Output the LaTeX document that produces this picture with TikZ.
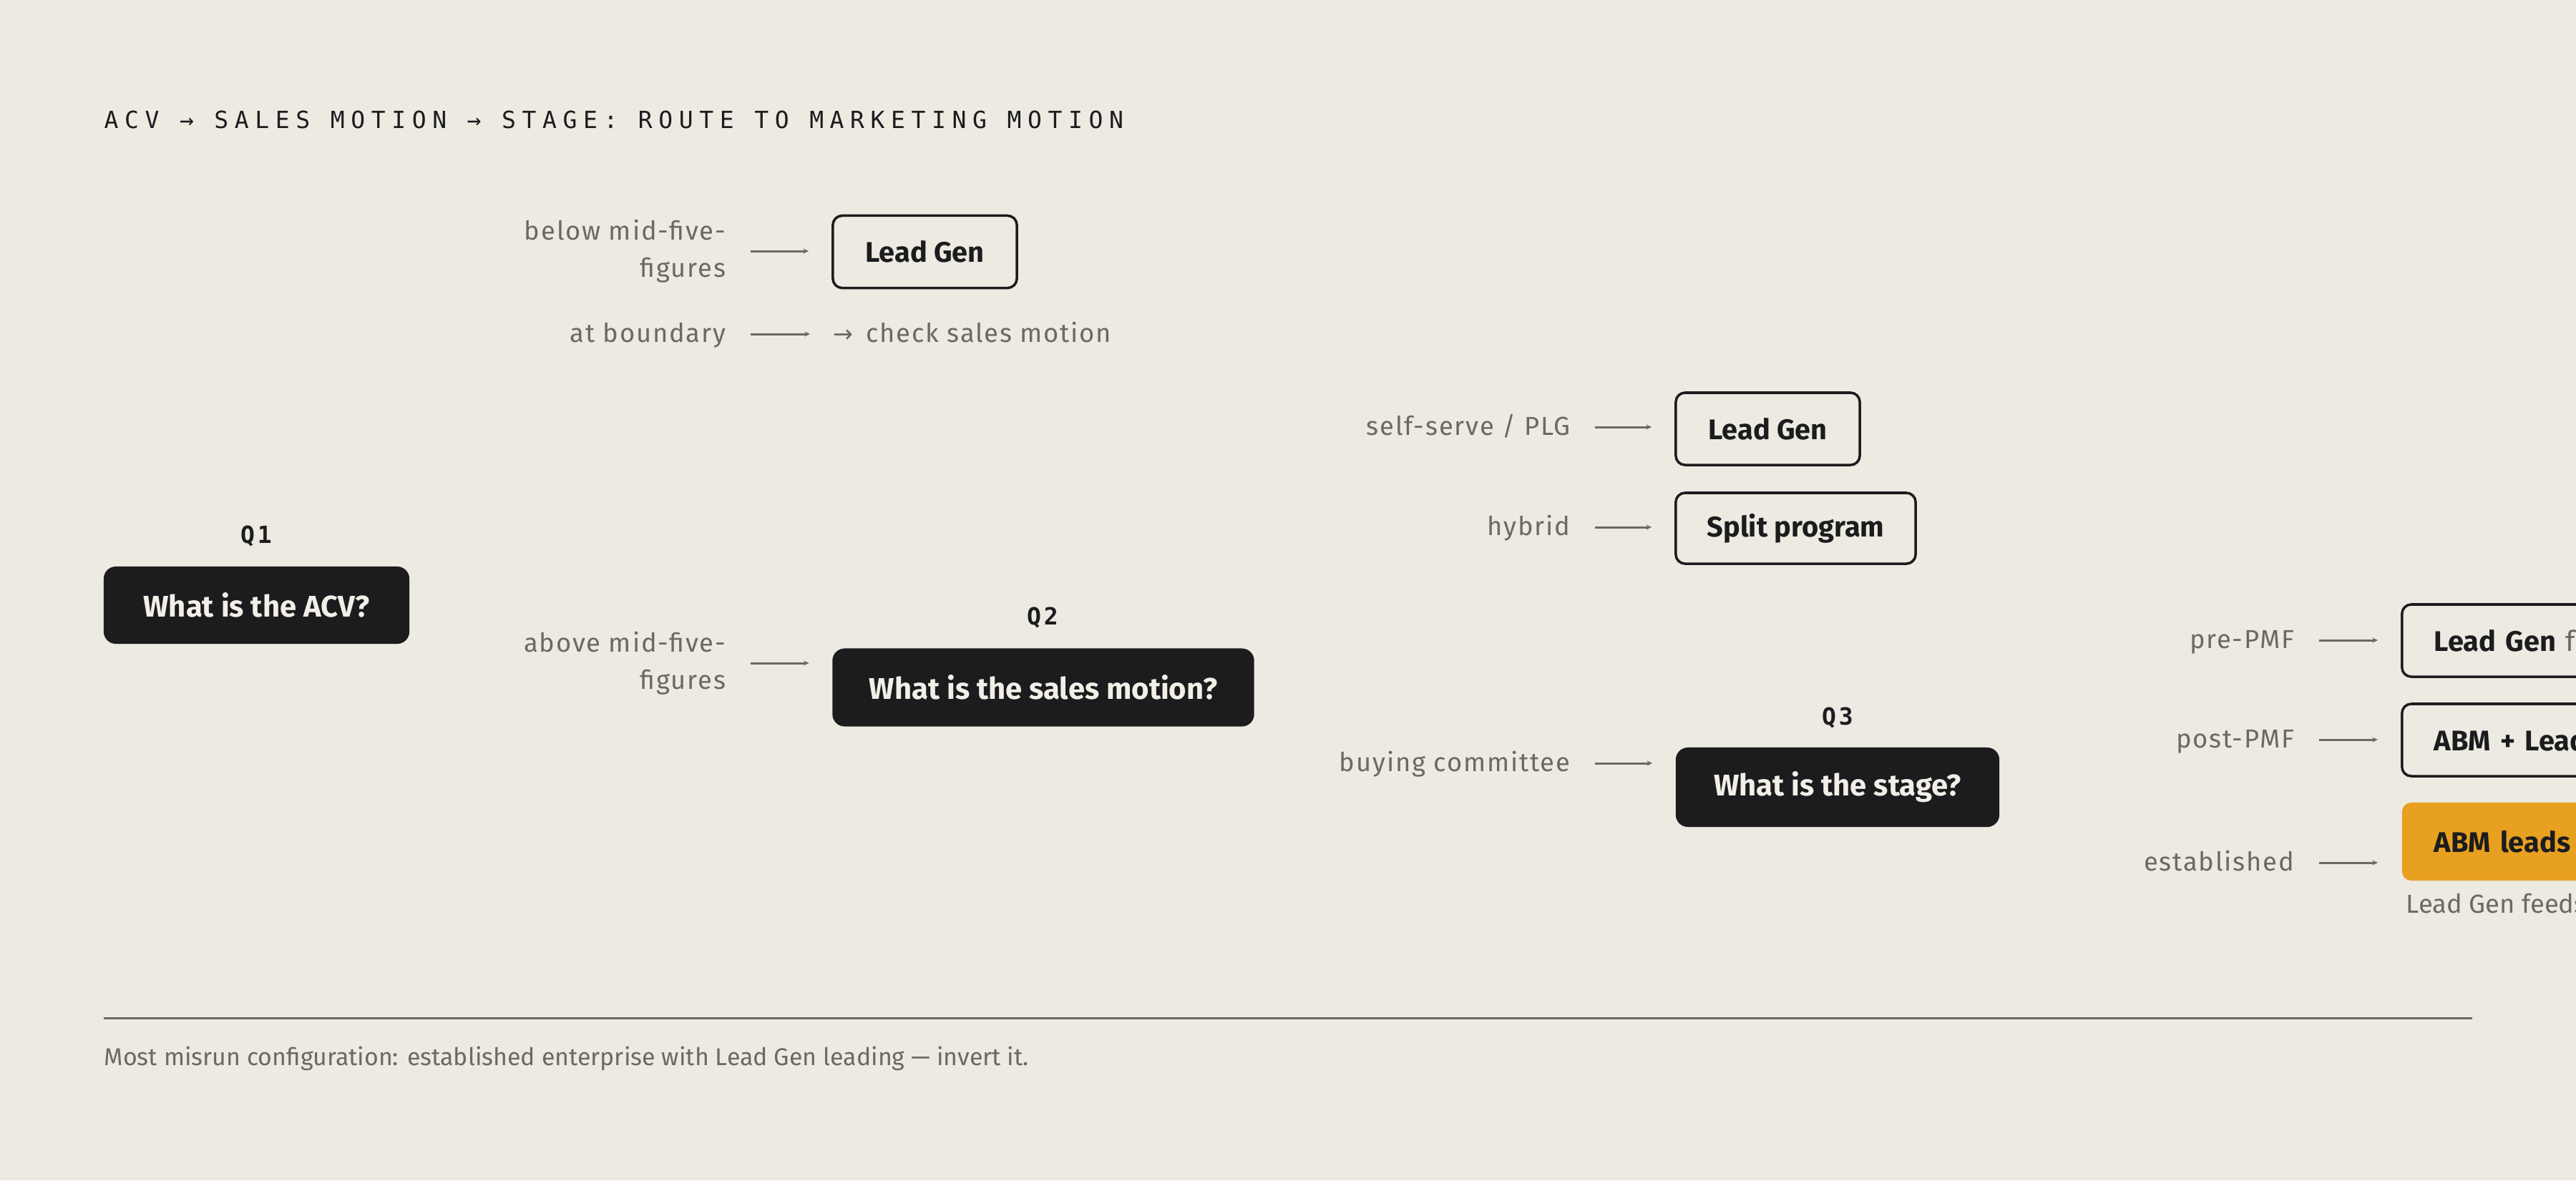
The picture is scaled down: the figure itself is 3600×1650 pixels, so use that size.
\documentclass[tikz,border=0pt]{standalone}
\usepackage{fontspec}
\setmainfont{Fira Sans}
\newfontfamily\titlefont[LetterSpace=26]{DejaVu Sans Mono}
\newfontfamily\qfont[LetterSpace=12]{DejaVu Sans Mono}
\newfontfamily\arrowfont{DejaVu Sans}
\newfontfamily\labelfont[LetterSpace=5]{Fira Sans}
\usetikzlibrary{arrows.meta,calc}
\definecolor{bgc}{RGB}{237,234,226}
\definecolor{ink}{RGB}{28,28,30}
\definecolor{muted}{RGB}{108,105,100}
\definecolor{paper}{RGB}{242,239,232}
\definecolor{amber}{RGB}{232,160,32}
\tikzset{
  titletext/.style={inner sep=0, text=ink, font=\titlefont\fontsize{9.4}{11}\selectfont},
  qlabel/.style={inner sep=0, text=ink, font=\qfont\bfseries\fontsize{9.4}{11}\selectfont},
  darkq/.style={fill=ink, text=paper, rounded corners=0.17cm, inner sep=0,
    font=\bfseries\fontsize{11.9}{13}\selectfont},
  outbox/.style={draw=ink, line width=1pt, fill=bgc, rounded corners=0.13cm, inner sep=0,
    text=ink, font=\bfseries\fontsize{11.3}{13}\selectfont},
  edgebox/.style={outbox, anchor=west, inner xsep=0.45cm, text width=5.1cm, align=left, minimum height=1.01cm},
  cond/.style={inner sep=0, text=muted, font=\labelfont\fontsize{10.35}{14.8}\selectfont},
  subnote/.style={inner sep=0, text=muted, font=\fontsize{10.35}{12}\selectfont},
  arr/.style={draw=muted, line width=0.85pt, -{Stealth[length=2.2pt,width=2pt]}},
  rulestyle/.style={draw=muted, line width=0.85pt},
  foot/.style={inner sep=0, text=muted, font=\fontsize{9.65}{11}\selectfont},
}
\begin{document}
\begin{tikzpicture}[x=0.01cm,y=-0.01cm]
\fill[bgc] (0,0) rectangle (3600,1650);
\useasboundingbox (0,0) rectangle (3600,1650);
\clip (0,0) rectangle (3600,1650);

% title
\node[titletext, anchor=base west] (title) at (145,179) {ACV → SALES MOTION → STAGE: ROUTE TO MARKETING MOTION};

% Q1
\node[qlabel, anchor=base] (q1l) at (358,759) {Q1};
\node[darkq, minimum width=4.27cm, minimum height=1.08cm] (q1) at (358.5,846) {What is the ACV?};

% column 1
\node[cond, anchor=east, align=right] (c1a) at (1015,351) {below mid-five-\\figures};
\node[outbox, minimum width=2.57cm, minimum height=1.01cm] (lg1) at (1292.5,352) {Lead Gen};
\draw[arr] ($(c1a.east)+(34,0)$) -- ($(c1a.east -| lg1.west)+(-32,0)$);

\node[cond, anchor=base east] (c1b) at (1015,478) {at boundary};
\node[cond, anchor=base west] (chk) at (1164,478) {{\arrowfont\fontsize{9.5}{10}\selectfont →}\, check sales motion};
\draw[arr] ($(c1b.base east)+(34,-11)$) -- ($(c1b.base east -| chk.west)+(-32,-11)$);

\node[cond, anchor=east, align=right] (c1c) at (1015,927) {above mid-five-\\figures};
\node[qlabel, anchor=base] (q2l) at (1457,873) {Q2};
\node[darkq, minimum width=5.89cm, minimum height=1.09cm] (q2) at (1458,961) {What is the sales motion?};
\draw[arr] ($(c1c.east)+(34,0)$) -- ($(c1c.east -| q2.west)+(-32,0)$);

% column 2
\node[cond, anchor=base east] (c2a) at (2195,608) {self-serve / PLG};
\node[outbox, minimum width=2.57cm, minimum height=1.01cm] (lg2) at (2470.5,599.5) {Lead Gen};
\draw[arr] ($(c2a.base east)+(34,-11)$) -- ($(c2a.base east -| lg2.west)+(-32,-11)$);

\node[cond, anchor=base east] (c2b) at (2195,748) {hybrid};
\node[outbox, minimum width=3.35cm, minimum height=0.99cm] (split) at (2509.5,738.5) {Split program};
\draw[arr] ($(c2b.base east)+(34,-11)$) -- ($(c2b.base east -| split.west)+(-32,-11)$);

\node[cond, anchor=base east] (c2c) at (2195,1078) {buying committee};
\node[qlabel, anchor=base] (q3l) at (2568,1013) {Q3};
\node[darkq, minimum width=4.52cm, minimum height=1.11cm] (q3) at (2568,1100.5) {What is the stage?};
\draw[arr] ($(c2c.base east)+(34,-11)$) -- ($(c2c.base east -| q3.west)+(-32,-11)$);

% column 3
\node[cond, anchor=base east] (c3a) at (3207,906) {pre-PMF};
\node[edgebox] (r1) at (3355,895.5) {Lead Gen {\mdseries\color{muted}fo}};
\draw[arr] ($(c3a.base east)+(34,-11)$) -- ($(c3a.base east -| r1.west)+(-32,-11)$);

\node[cond, anchor=base east] (c3b) at (3207,1045) {post-PMF};
\node[edgebox] (r2) at (3355,1034.5) {ABM + Lead};
\draw[arr] ($(c3b.base east)+(34,-11)$) -- ($(c3b.base east -| r2.west)+(-32,-11)$);

\node[cond, anchor=base east] (c3c) at (3207,1217) {established};
\node[edgebox, draw=none, fill=amber, minimum height=1.09cm] (r3) at (3355,1176.5) {ABM leads};
\draw[arr] ($(c3c.base east)+(34,-11)$) -- ($(c3c.base east -| r3.west)+(-32,-11)$);
\node[subnote, anchor=base west] (sub) at (3362,1276) {Lead Gen feeds};

% footer
\coordinate (rs) at (145,1423);
\coordinate (re) at (3455,1423);
\draw[rulestyle] (rs) -- (re);
\node[foot, anchor=base west] (note) at (145,1489) {Most misrun configuration: established enterprise with Lead Gen leading — invert it.};
\end{tikzpicture}
\end{document}
